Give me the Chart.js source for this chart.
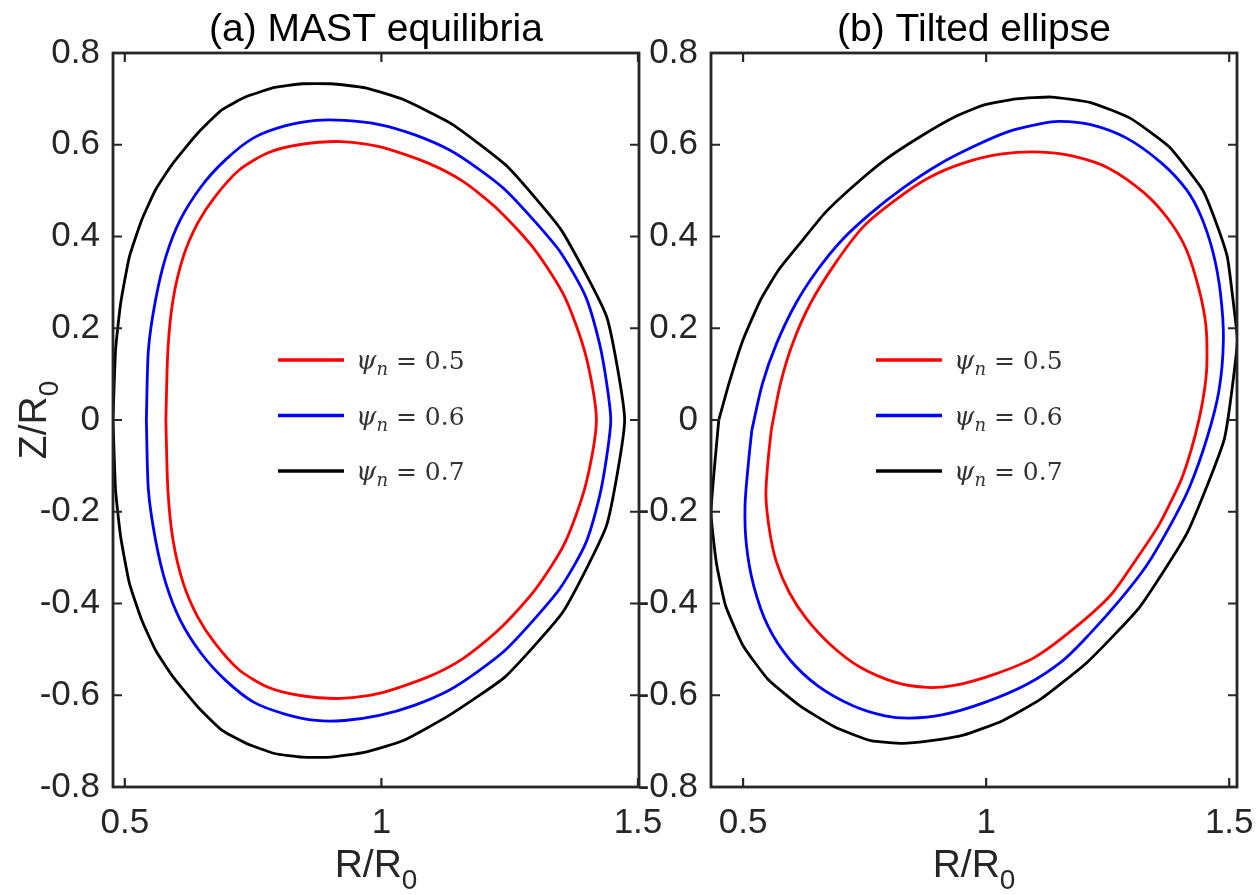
<!DOCTYPE html>
<html>
<head>
<meta charset="utf-8">
<script src="https://cdn.jsdelivr.net/npm/chart.js@4"></script>
<style>
    html, body { margin: 0; background: #fff; }
    #wrap { position: relative; width: 1257px; height: 895px; }
    canvas { position: absolute; left: 0; top: 0; }
</style>
</head>
<body>
<div id="wrap">
    <canvas id="mast" width="1257" height="895"></canvas>
    <canvas id="tilt" width="1257" height="895"></canvas>
</div>
<script>
// tick values / labels
var xTickVals = [0.5, 1, 1.5];
var xTickLabels = ["0.5", "1", "1.5"];
var yTickVals = [-0.8, -0.6, -0.4, -0.2, 0, 0.2, 0.4, 0.6, 0.8];
var yTickLabels = ["-0.8", "-0.6", "-0.4", "-0.2", "0", "0.2", "0.4", "0.6", "0.8"];
var psiLevels = ["0.5", "0.6", "0.7"];

// (a) MAST equilibria, closed contours (R/R0, Z/R0)
var mastR05 = [0.580, 0.584, 0.594, 0.614, 0.642, 0.676, 0.723, 0.778, 0.839, 0.921, 0.996, 1.091, 1.159, 1.228, 1.299, 1.357, 1.398, 1.419,
    1.398, 1.357, 1.299, 1.228, 1.159, 1.091, 0.996, 0.921, 0.839, 0.778, 0.723, 0.676, 0.642, 0.614, 0.594, 0.584, 0.580];
var mastZ05 = [0.000, 0.153, 0.262, 0.356, 0.429, 0.487, 0.545, 0.582, 0.600, 0.607, 0.596, 0.560, 0.520, 0.458, 0.371, 0.269, 0.142, 0.000,
    -0.142, -0.269, -0.371, -0.458, -0.520, -0.560, -0.596, -0.607, -0.600, -0.582, -0.545, -0.487, -0.429, -0.356, -0.262, -0.153, 0.000];

var mastR06 = [0.542, 0.546, 0.560, 0.580, 0.608, 0.649, 0.696, 0.751, 0.812, 0.873, 0.928, 0.996, 1.064, 1.132, 1.187, 1.241, 1.302, 1.350, 1.398, 1.425, 1.439, 1.447,
    1.439, 1.425, 1.398, 1.350, 1.302, 1.241, 1.187, 1.132, 1.064, 0.996, 0.928, 0.873, 0.812, 0.751, 0.696, 0.649, 0.608, 0.580, 0.560, 0.546, 0.542];
var mastZ06 = [0.000, 0.153, 0.262, 0.356, 0.436, 0.509, 0.567, 0.615, 0.641, 0.653, 0.653, 0.644, 0.622, 0.589, 0.549, 0.502, 0.429, 0.364, 0.269, 0.167, 0.080, 0.000,
    -0.080, -0.167, -0.269, -0.364, -0.429, -0.502, -0.549, -0.589, -0.622, -0.644, -0.655, -0.655, -0.641, -0.615, -0.567, -0.509, -0.436, -0.356, -0.262, -0.153, 0.000];

var mastR07 = [0.477, 0.482, 0.492, 0.509, 0.533, 0.560, 0.594, 0.642, 0.689, 0.737, 0.792, 0.846, 0.901, 0.969, 1.044, 1.139, 1.245, 1.350, 1.439, 1.474,
    1.439, 1.354, 1.241, 1.132, 1.044, 0.969, 0.901, 0.846, 0.792, 0.737, 0.689, 0.642, 0.594, 0.560, 0.533, 0.509, 0.492, 0.482, 0.477];
var mastZ07 = [0.000, 0.153, 0.255, 0.356, 0.436, 0.502, 0.560, 0.625, 0.676, 0.705, 0.725, 0.733, 0.733, 0.724, 0.698, 0.644, 0.553, 0.415, 0.225, 0.000,
    -0.229, -0.418, -0.560, -0.644, -0.698, -0.724, -0.735, -0.735, -0.727, -0.705, -0.676, -0.625, -0.560, -0.502, -0.436, -0.356, -0.255, -0.153, 0.000];

// (b) Tilted ellipse
var tiltR05 = [0.558, 0.577, 0.602, 0.639, 0.690, 0.748, 0.814, 0.880, 0.953, 1.033, 1.113, 1.179, 1.252, 1.325, 1.376, 1.412, 1.438, 1.452, 1.454, 1.449,
    1.438, 1.421, 1.401, 1.380, 1.353, 1.304, 1.256, 1.179, 1.099, 1.018, 0.938, 0.880, 0.814, 0.741, 0.682, 0.631, 0.595, 0.569, 0.555, 0.547, 0.551, 0.558];
var tiltZ05 = [-0.022, 0.080, 0.167, 0.255, 0.342, 0.422, 0.480, 0.527, 0.560, 0.580, 0.584, 0.575, 0.549, 0.495, 0.436, 0.371, 0.284, 0.206, 0.120, 0.065,
    0.002, -0.068, -0.131, -0.178, -0.233, -0.311, -0.382, -0.456, -0.518, -0.554, -0.578, -0.583, -0.572, -0.539, -0.492, -0.434, -0.376, -0.311, -0.245, -0.166, -0.093, -0.022];

var tiltR06 = [0.518, 0.540, 0.569, 0.609, 0.653, 0.704, 0.763, 0.828, 0.901, 0.974, 1.047, 1.113, 1.150, 1.215, 1.288, 1.361, 1.412, 1.442, 1.467, 1.482, 1.488, 1.479,
    1.455, 1.418, 1.377, 1.329, 1.277, 1.215, 1.157, 1.084, 0.996, 0.909, 0.843, 0.792, 0.726, 0.653, 0.595, 0.551, 0.522, 0.507, 0.504, 0.511, 0.518];
var tiltZ06 = [-0.022, 0.080, 0.167, 0.255, 0.327, 0.393, 0.451, 0.505, 0.556, 0.596, 0.629, 0.646, 0.651, 0.644, 0.615, 0.560, 0.502, 0.444, 0.364, 0.276, 0.175, 0.065,
    -0.037, -0.147, -0.233, -0.319, -0.390, -0.464, -0.525, -0.576, -0.616, -0.643, -0.650, -0.645, -0.623, -0.579, -0.521, -0.449, -0.362, -0.274, -0.187, -0.093, -0.022];

var tiltR07 = [0.450, 0.471, 0.500, 0.536, 0.573, 0.617, 0.668, 0.726, 0.792, 0.865, 0.938, 0.996, 1.062, 1.135, 1.215, 1.296, 1.376, 1.445, 1.471, 1.496, 1.507, 1.517,
    1.490, 1.414, 1.315, 1.208, 1.113, 1.033, 0.953, 0.887, 0.828, 0.763, 0.690, 0.617, 0.551, 0.500, 0.464, 0.445, 0.434, 0.442, 0.450];
var tiltZ07 = [0.000, 0.080, 0.175, 0.262, 0.327, 0.385, 0.451, 0.509, 0.567, 0.618, 0.662, 0.687, 0.700, 0.704, 0.692, 0.658, 0.596, 0.502, 0.436, 0.356, 0.269, 0.175,
    -0.041, -0.245, -0.409, -0.528, -0.608, -0.656, -0.687, -0.699, -0.705, -0.699, -0.670, -0.623, -0.565, -0.492, -0.405, -0.311, -0.202, -0.093, 0.000];

var colors = ["#ff0000", "#0000ff", "#000000"];
var axisColor = "#262626";
var sans = "'Liberation Sans', Arial, sans-serif";
var serif = "'DejaVu Serif', serif";

// text with a subscript, centred on cx
function subText(ctx, main, sub, cx, base, size) {
    var subSize = Math.round(size * 0.72);
    ctx.font = size + "px " + sans;
    var w1 = ctx.measureText(main).width;
    ctx.font = subSize + "px " + sans;
    var w2 = ctx.measureText(sub).width;
    var x0 = cx - (w1 + w2) / 2;
    ctx.textAlign = "left";
    ctx.font = size + "px " + sans;
    ctx.fillText(main, x0, base);
    ctx.font = subSize + "px " + sans;
    ctx.fillText(sub, x0 + w1, base + size * 0.3);
}

var panelDeco = {
    id: "panelDeco",
    afterDatasetsDraw: function (chart, args, opts) {
        var ctx = chart.ctx;
        var a = chart.chartArea;
        var xs = chart.scales.x;
        var ys = chart.scales.y;
        ctx.save();

        // box
        ctx.strokeStyle = axisColor;
        ctx.lineWidth = 2.8;
        ctx.strokeRect(a.left, a.top, a.right - a.left, a.bottom - a.top);

        // inward ticks on all four sides
        ctx.lineWidth = 2.2;
        ctx.beginPath();
        xs.ticks.forEach(function (t) {
            var px = xs.getPixelForValue(t.value);
            ctx.moveTo(px, a.bottom);
            ctx.lineTo(px, a.bottom - 9);
            ctx.moveTo(px, a.top);
            ctx.lineTo(px, a.top + 9);
        });
        ys.ticks.forEach(function (t) {
            var py = ys.getPixelForValue(t.value);
            ctx.moveTo(a.left, py);
            ctx.lineTo(a.left + 9, py);
            ctx.moveTo(a.right, py);
            ctx.lineTo(a.right - 9, py);
        });
        ctx.stroke();

        // title
        var cx = (a.left + a.right) / 2;
        ctx.fillStyle = "#000";
        ctx.textAlign = "center";
        ctx.textBaseline = "alphabetic";
        ctx.font = "39px " + sans;
        ctx.fillText(opts.title, cx, 41);

        // axis titles
        ctx.fillStyle = axisColor;
        subText(ctx, "R/R", "0", cx, 877, 39);
        if (opts.yTitle) {
            ctx.save();
            ctx.translate(46, (a.top + a.bottom) / 2);
            ctx.rotate(-Math.PI / 2);
            subText(ctx, "Z/R", "0", 0, 0, 39);
            ctx.restore();
        }

        // legend inside the box
        chart.data.datasets.forEach(function (ds, i) {
            var ly = a.top + 307 + i * 55.5;
            var lx = a.left + 165;
            ctx.strokeStyle = ds.borderColor;
            ctx.lineWidth = 3.5;
            ctx.beginPath();
            ctx.moveTo(lx, ly);
            ctx.lineTo(lx + 66, ly);
            ctx.stroke();

            var tx = lx + 78;
            var tb = ly + 9;
            ctx.fillStyle = "#333";
            ctx.textAlign = "left";
            ctx.font = "italic 26px " + serif;
            ctx.fillText("ψ", tx, tb);
            tx += ctx.measureText("ψ").width;
            ctx.font = "italic 18px " + serif;
            ctx.fillText("n", tx, tb + 6);
            tx += ctx.measureText("n").width;
            ctx.font = "25px " + serif;
            ctx.fillText(" = " + psiLevels[i], tx, tb);
        });
        ctx.restore();
    },
};

function makePanel(id, rs, zs, xMin, xMax, padLeft, padRight, title, yTitle, tensions) {
    var datasets = rs.map(function (r, k) {
        return {
            label: "ψn = " + psiLevels[k],
            data: r.map(function (v, i) {
                return { x: v, y: zs[k][i] };
            }),
            borderColor: colors[k],
            borderWidth: 2.8,
            showLine: true,
            pointRadius: 0,
            tension: tensions[k],
            fill: false,
        };
    });
    var tickFont = { family: sans, size: 35 };
    return new Chart(document.getElementById(id), {
        type: "scatter",
        data: { datasets: datasets },
        options: {
            responsive: false,
            animation: false,
            events: [],
            layout: { padding: { left: padLeft, right: padRight, top: 53, bottom: 0 } },
            plugins: {
                legend: { display: false },
                tooltip: { enabled: false },
                panelDeco: { title: title, yTitle: yTitle },
            },
            scales: {
                x: {
                    type: "linear",
                    min: xMin,
                    max: xMax,
                    grid: { display: false, drawTicks: false },
                    border: { display: false },
                    afterBuildTicks: function (s) {
                        s.ticks = xTickVals.map(function (v) { return { value: v }; });
                    },
                    afterFit: function (s) {
                        s.height = 108;
                        s.paddingLeft = 0;
                        s.paddingRight = 0;
                    },
                    ticks: {
                        padding: 15,
                        font: tickFont,
                        color: axisColor,
                        autoSkip: false,
                        maxRotation: 0,
                        minRotation: 0,
                        callback: function (v, i) { return xTickLabels[i]; },
                    },
                },
                y: {
                    type: "linear",
                    min: -0.8,
                    max: 0.8,
                    grid: { display: false, drawTicks: false },
                    border: { display: false },
                    afterBuildTicks: function (s) {
                        s.ticks = yTickVals.map(function (v) { return { value: v }; });
                    },
                    afterFit: function (s) {
                        s.width = 100;
                        s.paddingTop = 0;
                        s.paddingBottom = 0;
                    },
                    ticks: {
                        padding: 13,
                        font: tickFont,
                        color: axisColor,
                        autoSkip: false,
                        callback: function (v, i) { return yTickLabels[i]; },
                    },
                },
            },
        },
        plugins: [panelDeco],
    });
}

makePanel("mast", [mastR05, mastR06, mastR07], [mastZ05, mastZ06, mastZ07],
    0.477, 1.502, 13, 618, "(a) MAST equilibria", true, [0.25, 0.25, 0.15]);
makePanel("tilt", [tiltR05, tiltR06, tiltR07], [tiltZ05, tiltZ06, tiltZ07],
    0.434, 1.516, 611, 20, "(b) Tilted ellipse", false, [0.3, 0.3, 0.15]);
</script>
</body>
</html>
